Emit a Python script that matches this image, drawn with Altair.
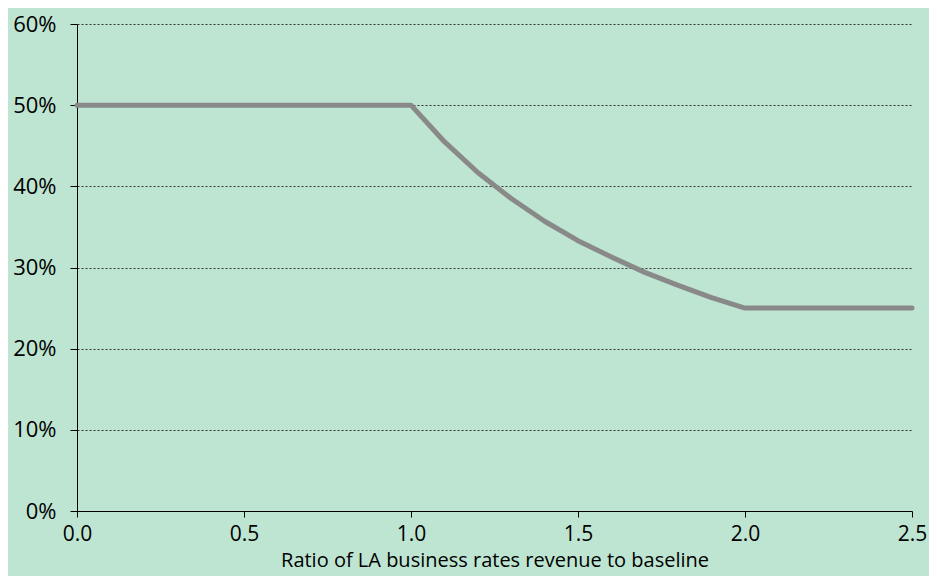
import altair as alt
import pandas as pd

ratio = [0.0, 1.0, 1.1, 1.2, 1.3, 1.4, 1.5, 1.6, 1.7, 1.8, 1.9, 2.0, 2.5]
share = [0.50, 0.50, 0.455, 0.417, 0.385, 0.357, 0.333, 0.313, 0.294, 0.278, 0.263, 0.25, 0.25]

df = pd.DataFrame({"ratio": ratio, "share": share})

FONT = "Open Sans"

chart = alt.Chart(df).mark_line(
    color="#898989", strokeWidth=5, strokeCap="round", strokeJoin="round"
).encode(
    x=alt.X("ratio:Q",
            scale=alt.Scale(domain=[0, 2.5], nice=False),
            axis=alt.Axis(values=[0, 0.5, 1.0, 1.5, 2.0, 2.5], format=".1f",
                          title="Ratio of LA business rates revenue to baseline",
                          grid=False, domainColor="#000000", tickColor="#000000",
                          tickSize=6, labelPadding=6, titlePadding=6,
                          labelFlush=False, labelOverlap=False,
                          labelFontSize=21, titleFontSize=20, titleFontWeight="normal",
                          labelColor="#000000", titleColor="#000000",
                          labelFont=FONT, titleFont=FONT)),
    y=alt.Y("share:Q",
            scale=alt.Scale(domain=[0, 0.6], nice=False),
            axis=alt.Axis(values=[0, 0.1, 0.2, 0.3, 0.4, 0.5, 0.6], format=".0%",
                          title=None, grid=True, gridColor="#333333", gridDash=[2, 2],
                          gridWidth=1, domainColor="#000000", tickColor="#000000",
                          tickSize=7, labelPadding=14, labelFontSize=22,
                          labelFlush=False, labelOverlap=False,
                          labelColor="#000000", labelFont=FONT)),
).properties(
    width=835, height=487,
    autosize=alt.AutoSizeParams(type="none"),
    padding={"left": 69, "top": 16, "right": 17, "bottom": 65},
    background="#bee5d2",
).configure_view(
    stroke=None
)

chart.save("out.html", embed_options={"renderer": "svg", "actions": False})
